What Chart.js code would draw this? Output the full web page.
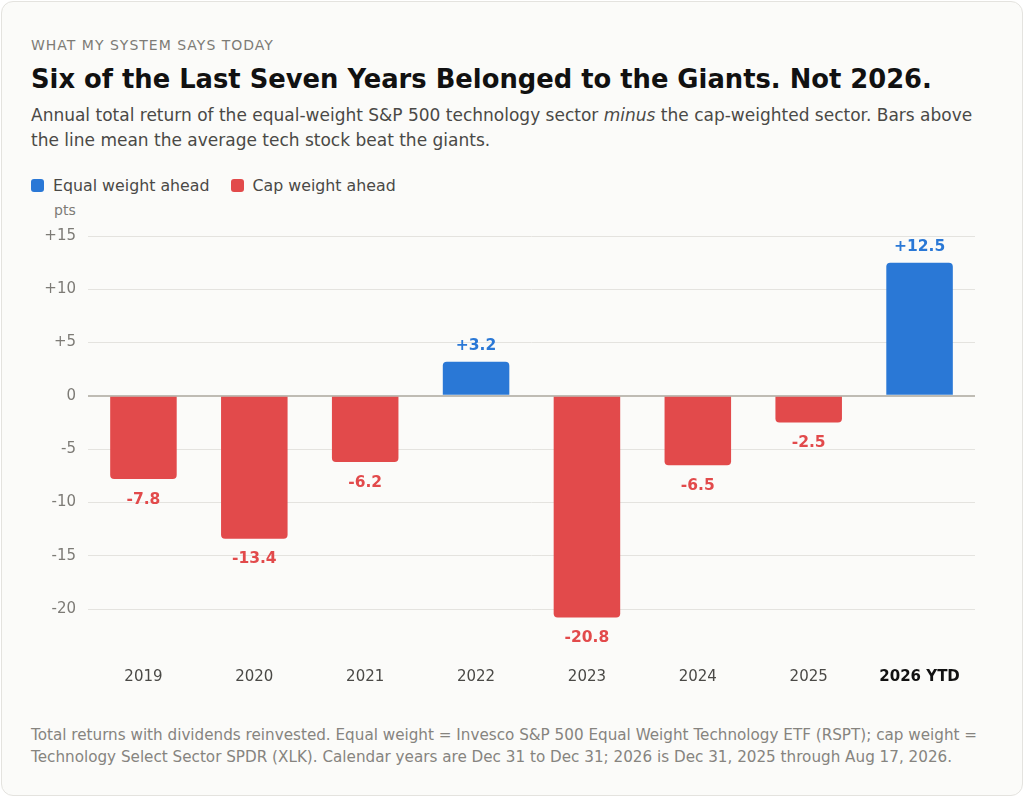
<!DOCTYPE html>
<html>
<head>
<meta charset="utf-8">
<script src="https://cdn.jsdelivr.net/npm/chart.js@4"></script>
<style>
  html, body { margin: 0; padding: 0; background: #ffffff; }
  body { width: 1024px; height: 797px; position: relative; font-family: "DejaVu Sans", sans-serif; }
  .card {
    position: absolute; left: 1px; top: 1px; width: 1020px; height: 793px;
    background: #fbfbf9; border: 1px solid #e4e3df; border-radius: 12px;
  }
  .kicker { position: absolute; left: 29px; top: 35px; font-size: 14px; letter-spacing: 1px; color: #7d7b76; }
  .title { position: absolute; left: 29px; top: 62px; font-size: 25.8px; font-weight: bold; color: #111; }
  .sub { position: absolute; left: 29px; top: 101px; width: 962px; font-size: 17px; line-height: 25px; color: #4a4946; }
  .legend { position: absolute; left: 29px; top: 174px; font-size: 15.8px; color: #4a4946; display: flex; }
  .legend span { display: flex; align-items: center; margin-right: 21px; }
  .legend i { width: 13px; height: 13px; border-radius: 3px; margin-right: 9px; display: inline-block; }
  .unit { position: absolute; left: 52px; top: 200px; font-size: 14px; color: #7d7b76; }
  .foot { position: absolute; left: 29px; top: 722px; width: 962px; font-size: 15.2px; line-height: 22px; color: #86847f; }
  #wrap { position: absolute; left: 29px; top: 215px; width: 946px; height: 485px; }
</style>
</head>
<body>
<div class="card">
  <div class="kicker">WHAT MY SYSTEM SAYS TODAY</div>
  <div class="title">Six of the Last Seven Years Belonged to the Giants. Not 2026.</div>
  <div class="sub">Annual total return of the equal-weight S&amp;P 500 technology sector <em>minus</em> the cap-weighted sector. Bars above the line mean the average tech stock beat the giants.</div>
  <div class="legend">
    <span><i style="background:#2a78d6"></i>Equal weight ahead</span>
    <span><i style="background:#e24a4b"></i>Cap weight ahead</span>
  </div>
  <div class="unit">pts</div>
  <div class="foot">Total returns with dividends reinvested. Equal weight = Invesco S&amp;P 500 Equal Weight Technology ETF (RSPT); cap weight = Technology Select Sector SPDR (XLK). Calendar years are Dec 31 to Dec 31; 2026 is Dec 31, 2025 through Aug 17, 2026.</div>
</div>
<div id="wrap"><canvas id="chart"></canvas></div>
<script>
const years = ["2019", "2020", "2021", "2022", "2023", "2024", "2025", "2026 YTD"]
const spread = [-7.8, -13.4, -6.2, 3.2, -20.8, -6.5, -2.5, 12.5]
const yTicks = [15, 10, 5, 0, -5, -10, -15, -20]

const BLUE = "#2a78d6"
const RED = "#e24a4b"
const colorFor = v => (v >= 0 ? BLUE : RED)

const fmt = v => (v > 0 ? "+" + v : String(v))

// value labels above / below each bar
const barLabels = {
  id: "barLabels",
  afterDatasetsDraw(chart) {
    const { ctx } = chart
    const meta = chart.getDatasetMeta(0)
    ctx.save()
    ctx.font = "bold 15.5px 'DejaVu Sans'"
    ctx.textAlign = "center"
    meta.data.forEach((bar, i) => {
      const v = spread[i]
      ctx.fillStyle = colorFor(v)
      if (v >= 0) {
        ctx.textBaseline = "bottom"
        ctx.fillText(fmt(v), bar.x, bar.y - 8)
      } else {
        ctx.textBaseline = "top"
        ctx.fillText(fmt(v), bar.x, bar.y + 13)
      }
    })
    ctx.restore()
  }
}

new Chart(document.getElementById("chart"), {
  type: "bar",
  data: {
    labels: years,
    datasets: [{
      data: spread,
      backgroundColor: spread.map(colorFor),
      borderRadius: 4,
      borderSkipped: "start",
      categoryPercentage: 1,
      barPercentage: 0.6
    }]
  },
  options: {
    responsive: true,
    maintainAspectRatio: false,
    animation: false,
    layout: { padding: { top: 21, right: 0, left: 0, bottom: 0 } },
    plugins: {
      legend: { display: false },
      tooltip: { enabled: false }
    },
    scales: {
      x: {
        grid: { display: false },
        border: { display: false },
        ticks: {
          padding: 19,
          color: ctx => (ctx.index === years.length - 1 ? "#111" : "#4a4946"),
          font: ctx => ({
            family: "DejaVu Sans",
            size: 15,
            weight: ctx.index === years.length - 1 ? "bold" : "normal"
          })
        },
        afterFit(scale) {
          scale.height = 59
          scale.paddingLeft = 0
          scale.paddingRight = 0
        }
      },
      y: {
        min: -23,
        max: 15,
        afterBuildTicks(scale) {
          scale.ticks = yTicks.map(v => ({ value: v }))
        },
        border: { display: false },
        grid: {
          color: ctx => (ctx.tick && ctx.tick.value === 0 ? "#bfbcb4" : "#e4e3df"),
          lineWidth: ctx => (ctx.tick && ctx.tick.value === 0 ? 2 : 1),
          drawTicks: false
        },
        ticks: {
          padding: 12,
          color: "#7d7b76",
          font: { family: "DejaVu Sans", size: 15 },
          callback: v => fmt(v)
        },
        afterFit(scale) {
          scale.width = 59
          scale.paddingTop = 0
          scale.paddingBottom = 0
        }
      }
    }
  },
  plugins: [barLabels]
})
</script>
</body>
</html>
